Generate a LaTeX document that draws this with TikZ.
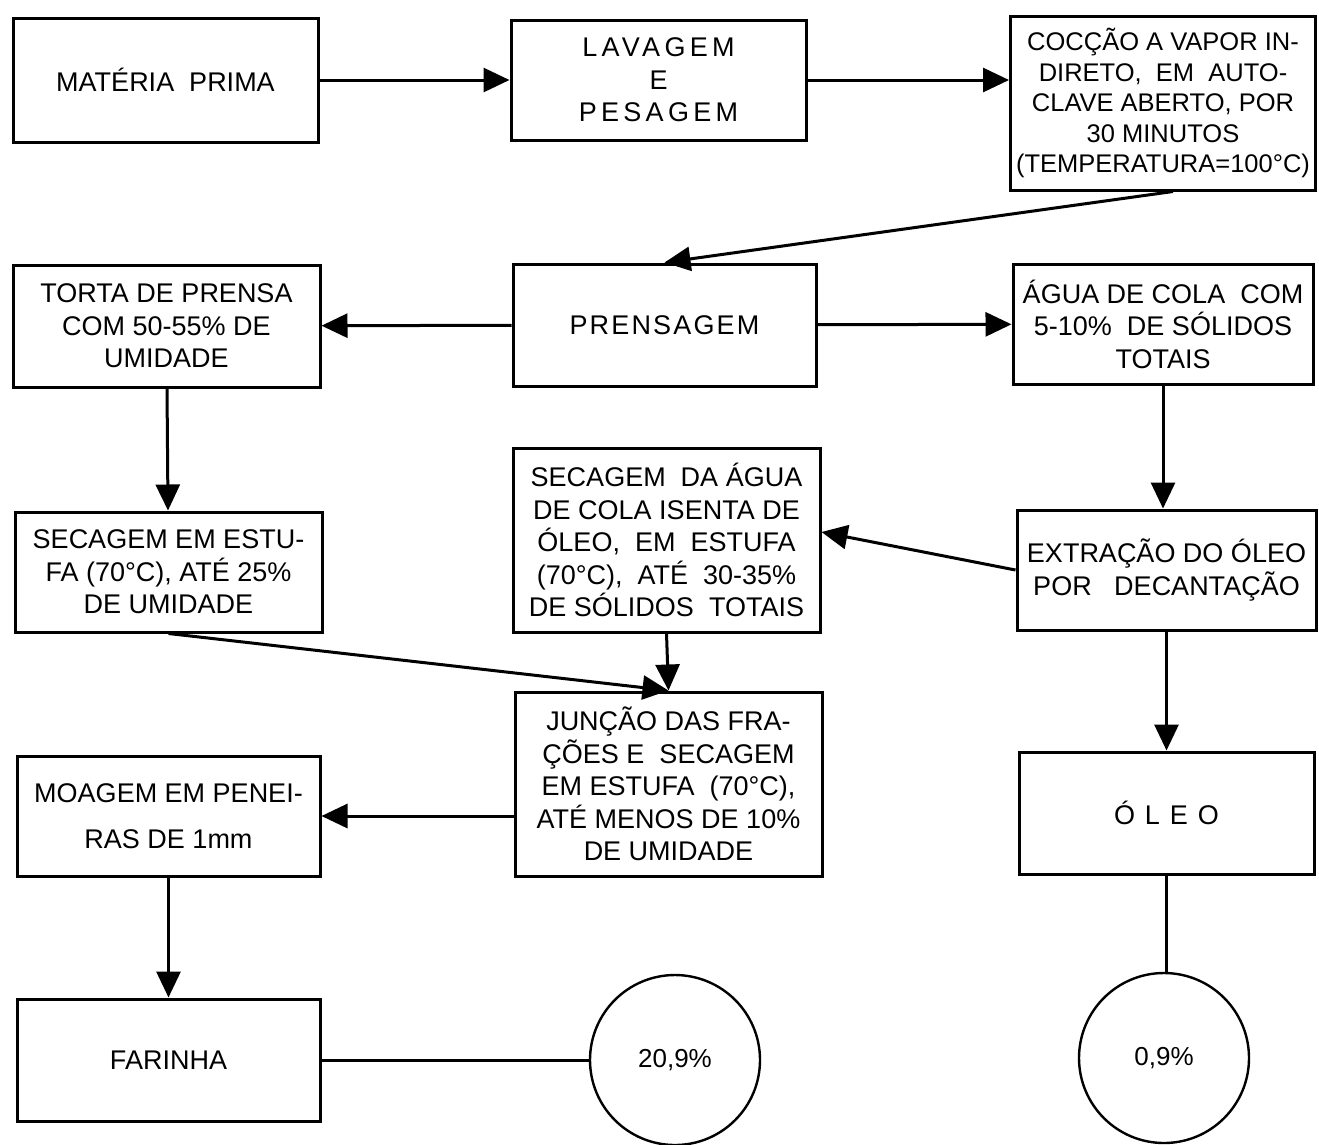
\documentclass[tikz,border=0pt]{standalone}
\usepackage{fontspec}
\setmainfont{Liberation Sans}
\usetikzlibrary{arrows.meta}
\begin{document}
\begin{tikzpicture}[x=1pt,y=-1pt,
  box/.style={draw,line width=3pt,rectangle,inner sep=0pt,align=center,font=\fontsize{27}{32.5}\selectfont},
  circ/.style={draw,line width=2.4pt,circle,inner sep=0pt,minimum size=170pt,font=\fontsize{26}{30}\selectfont},
  flow/.style={line width=3pt,-{Triangle[length=26pt,width=24pt]}},
  link/.style={line width=3pt}]
\useasboundingbox (0,0) rectangle (1319,1144);
\node[box,minimum width=305pt,minimum height=124pt] (MP) at (165.5,80) {MATÉRIA~~PRIMA};
\node[box,minimum width=295pt,minimum height=120pt] (LP) at (658.5,80) {\addfontfeature{LetterSpace=16}LAVAGEM\\\addfontfeature{LetterSpace=16}E\\\addfontfeature{LetterSpace=16}PESAGEM};
\node[box,minimum width=305pt,minimum height=174pt,font=\fontsize{25.5}{30.5}\selectfont] (CO) at (1163,103) {COCÇÃO A VAPOR IN-\\DIRETO,~ EM~ AUTO-\\CLAVE ABERTO, POR\\30 MINUTOS\\(TEMPERATURA=100°C)};
\node[box,minimum width=307pt,minimum height=122pt] (TP) at (166.5,326) {TORTA DE PRENSA\\COM 50-55\% DE\\UMIDADE};
\node[box,minimum width=303pt,minimum height=122pt] (PR) at (664.5,325) {\addfontfeature{LetterSpace=8}PRENSAGEM};
\node[box,minimum width=300pt,minimum height=120pt] (AC) at (1163,324) {ÁGUA DE COLA~ COM\\5-10\%~ DE SÓLIDOS\\TOTAIS};
\node[box,minimum width=307pt,minimum height=120pt] (SE) at (168.5,572) {SECAGEM EM ESTU-\\FA (70°C), ATÉ 25\%\\DE UMIDADE};
\node[box,minimum width=307pt,minimum height=184pt] (SA) at (666.5,540) {SECAGEM~ DA ÁGUA\\DE COLA ISENTA DE\\ÓLEO,~ EM~ ESTUFA\\(70°C),~ ATÉ~ 30-35\%\\DE SÓLIDOS~ TOTAIS};
\node[box,minimum width=299pt,minimum height=120pt] (EX) at (1166.5,570) {EXTRAÇÃO DO ÓLEO\\POR~~ DECANTAÇÃO};
\node[box,minimum width=307pt,minimum height=184pt] (JU) at (668.5,784) {JUNÇÃO DAS FRA-\\ÇÕES E~ SECAGEM\\EM ESTUFA~ (70°C),\\ATÉ MENOS DE 10\%\\DE UMIDADE};
\node[box,minimum width=303pt,minimum height=120pt] (MO) at (168.5,816) {MOAGEM EM PENEI-\\[14pt]RAS DE 1mm};
\node[box,minimum width=295pt,minimum height=122pt] (OL) at (1166.5,813) {\addfontfeature{LetterSpace=37}ÓLEO};
\node[box,minimum width=303pt,minimum height=122pt] (FA) at (168.5,1060) {FARINHA};
\node[circ] (C1) at (675,1060) {20,9\%};
\node[circ] (C2) at (1164,1058) {0,9\%};
\draw[flow] (MP) -- (LP);
\draw[flow] (LP.east) -- (LP.east -| CO.west);
\draw[flow] ([xshift=10pt]CO.south) -- (PR.north);
\draw[flow] (PR) -- (TP);
\draw[flow] (PR) -- (AC);
\draw[flow] (TP) -- (SE);
\draw[flow] (AC) -- (EX.north -| AC);
\draw[flow] (EX.west) -- ([yshift=8pt]SA.east);
\draw[flow] (EX) -- (OL);
\draw[flow] (SE.south) -- (JU.north);
\draw[flow] (SA.south) -- (JU.north);
\draw[flow] (MO.east -| JU.west) -- (MO.east);
\draw[flow] (MO) -- (FA);
\draw[link] (FA.east) -- (C1.west);
\draw[link] (OL.south) -- (OL.south |- C2.north);
\end{tikzpicture}
\end{document}
